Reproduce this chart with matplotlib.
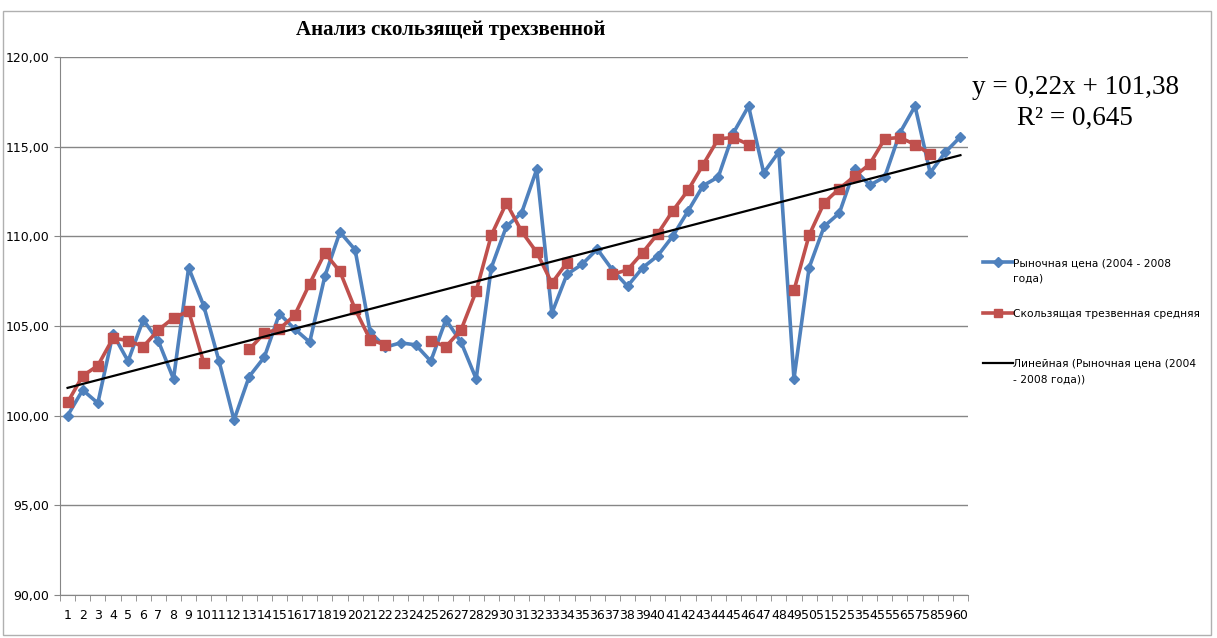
import numpy as np
import matplotlib
matplotlib.use('Agg')
import matplotlib.pyplot as plt
from matplotlib.lines import Line2D
from matplotlib.ticker import FuncFormatter

periods = np.arange(1, 61)
price = [100.0, 101.43, 100.7, 104.56, 103.04, 105.35, 104.16, 102.05, 108.25, 106.12,
         103.07, 99.76, 102.18, 103.26, 105.68, 104.84, 104.1, 107.77, 110.24, 109.25,
         104.65, 103.82, 104.06, 103.95, 103.04, 105.35, 104.1, 102.05, 108.25, 110.56,
         111.3, 113.73, 105.71, 107.88, 108.44, 109.29, 108.13, 107.22, 108.25, 108.92,
         110.02, 111.41, 112.83, 113.31, 115.77, 117.26, 113.54, 114.71, 102.05, 108.25,
         110.56, 111.3, 113.73, 112.85, 113.31, 115.77, 117.26, 113.54, 114.69, 115.55]
nan = np.nan
moving_avg = [100.74, 102.22, 102.79, 104.32, 104.19, 103.85, 104.78, 105.45, 105.83, 102.94,
              nan, nan, 103.69, 104.6, 104.84, 105.59, 107.36, 109.07, 108.04, 105.94,
              104.23, 103.95, nan, nan, 104.19, 103.85, 104.78, 106.94, 110.06, 111.86,
              110.28, 109.11, 107.39, 108.53, nan, nan, 107.88, 108.13, 109.09, 110.15,
              111.43, 112.57, 114.0, 115.44, 115.51, 115.12, nan, nan, 106.98, 110.06,
              111.88, 112.66, 113.35, 114.02, 115.44, 115.51, 115.12, 114.58, nan, nan]

label_price = 'Рыночная цена (2004 - 2008\nгода)'
label_ma = 'Скользящая трезвенная средняя'
label_trend = 'Линейная (Рыночная цена (2004\n- 2008 года))'
title = 'Анализ скользящей трехзвенной'
eq_text = 'y = 0,22x + 101,38'
r2_text = 'R² = 0,645'

# linear trend of market price
coef = np.polyfit(periods, price, 1)
trend = np.polyval(coef, periods)

W, H = 1217, 638
fig = plt.figure(figsize=(12.17, 6.38), dpi=100)
ax = fig.add_axes([60/W, 43/H, 908/W, 538/H])

styles = [dict(color='#4F81BD', lw=2.6, marker='D', ms=5.5),
          dict(color='#C0504D', lw=2.6, marker='s', ms=7.5),
          dict(color='black', lw=1.6)]

ax.plot(periods, price, zorder=3, **styles[0])
ax.plot(periods, moving_avg, zorder=4, **styles[1])
ax.plot(periods, trend, zorder=5, **styles[2])

ax.set_xlim(0.5, 60.5)
ax.set_ylim(90, 120)
ax.set_yticks(np.arange(90, 121, 5))
ax.yaxis.set_major_formatter(FuncFormatter(lambda v, p: f'{v:.2f}'.replace('.', ',')))
ax.set_xticks(periods)
ax.set_xticklabels([str(p) for p in periods])
ax.set_xticks(np.arange(0.5, 61, 1), minor=True)
ax.tick_params(axis='x', which='major', length=0, labelsize=9, pad=10)
ax.tick_params(axis='x', which='minor', length=4, color='#868686', direction='out')
ax.tick_params(axis='y', length=4, color='#868686', labelsize=9)
ax.grid(axis='y', color='#868686', lw=1)
ax.set_axisbelow(True)
for s in ['top', 'right']:
    ax.spines[s].set_visible(False)
for s in ['left', 'bottom']:
    ax.spines[s].set_color('#868686')

fig.text(451/W, 1 - 30/H, title, ha='center', va='center',
         fontfamily='Liberation Serif', fontweight='bold', fontsize=15)
fig.text(1075/W, 1 - 88/H, eq_text, ha='center', va='center',
         fontfamily='Liberation Serif', fontsize=19.5)
fig.text(1075/W, 1 - 118/H, r2_text, ha='center', va='center',
         fontfamily='Liberation Serif', fontsize=19.5)

# legend drawn by hand so the handle sits on the first text line, like Excel
leg_rows = [262, 313, 363]
for y, st, lab in zip(leg_rows, styles, [label_price, label_ma, label_trend]):
    yf = 1 - y/H
    st = dict(st)
    if 'ms' in st:
        st['ms'] = st['ms'] * 0.85
    fig.add_artist(Line2D([983/W, 998/W, 1013/W], [yf, yf, yf],
                          markevery=[1], transform=fig.transFigure, **st))
    fig.text(1013/W, 1 - (y - 4)/H, lab, ha='left', va='top', fontsize=7.7,
             linespacing=1.7)

fig.patches.append(plt.Rectangle((3/W, 3/H), 1208/W, 624/H,
                                 transform=fig.transFigure, fill=False,
                                 edgecolor='#b0b0b0', lw=1))

fig.savefig('out.png', dpi=100)
